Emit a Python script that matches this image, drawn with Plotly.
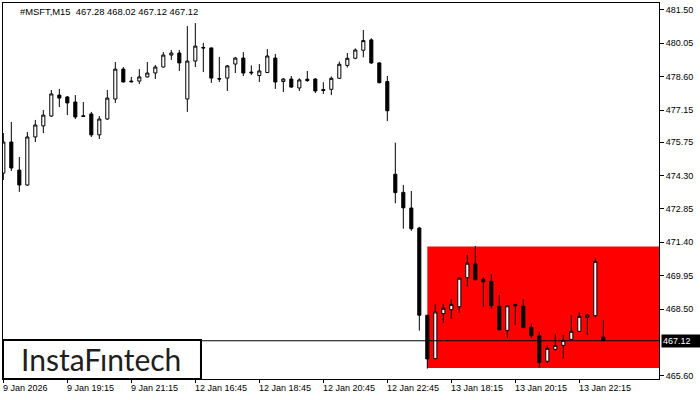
import plotly.graph_objects as go

# ---- data ----
opens = [474.41, 475.76, 474.54, 473.89, 475.98, 476.46, 476.89, 477.80, 477.72, 477.50,
         476.90, 476.98, 476.07, 476.76, 477.63, 478.93, 478.41, 478.41, 478.59, 478.76,
         479.02, 479.54, 479.63, 477.63, 479.28, 479.87, 479.85, 478.52, 478.54, 479.15,
         479.41, 478.80, 478.65, 478.78, 479.41, 478.39, 478.50, 478.11, 478.49, 478.50,
         478.04, 478.05, 478.53, 479.09, 479.40, 479.75, 480.20, 479.20, 478.39, 474.36,
         473.57, 472.89, 472.02, 468.23, 466.34, 468.30, 468.47, 468.60, 469.86, 470.46,
         469.79, 469.70, 468.62, 467.57, 468.70, 468.62, 467.70, 467.33, 466.23, 466.75,
         466.92, 467.18, 467.53, 468.14, 468.21, 467.28]
highs = [476.15, 476.63, 475.11, 476.20, 476.72, 477.15, 478.02, 478.07, 477.76, 477.80,
         477.50, 477.07, 476.89, 478.02, 479.24, 479.02, 478.59, 478.93, 479.24, 479.11,
         479.67, 479.76, 479.76, 480.80, 480.93, 480.07, 479.87, 479.46, 479.11, 479.46,
         479.67, 479.09, 479.15, 479.80, 479.59, 478.54, 478.63, 478.53, 478.85, 478.53,
         478.36, 478.61, 479.26, 479.63, 479.83, 480.63, 480.27, 479.22, 478.63, 475.73,
         473.89, 473.63, 472.07, 468.24, 468.72, 468.72, 468.92, 469.85, 470.85, 471.24,
         469.88, 470.02, 469.11, 468.67, 468.72, 468.93, 467.88, 467.50, 466.92, 467.41,
         467.36, 468.23, 468.37, 468.28, 470.70, 468.02]
lows = [474.11, 474.50, 473.59, 473.85, 475.76, 476.15, 476.85, 477.28, 476.93, 476.76,
        476.85, 475.98, 475.89, 476.72, 477.46, 478.35, 478.36, 478.28, 478.56, 478.50,
        479.00, 479.33, 478.85, 477.07, 479.02, 478.80, 478.33, 478.37, 477.98, 478.76,
        478.63, 478.67, 478.37, 478.76, 478.07, 477.93, 478.11, 477.98, 478.38, 477.89,
        477.85, 477.80, 478.52, 479.00, 479.36, 479.44, 479.15, 478.31, 476.67, 473.10,
        471.99, 471.90, 467.56, 465.91, 466.31, 467.90, 468.07, 468.34, 469.47, 469.76,
        468.60, 468.51, 467.56, 467.25, 467.80, 467.67, 467.25, 465.95, 466.14, 466.69,
        466.34, 467.15, 467.51, 467.37, 468.14, 467.12]
closes = [475.76, 474.63, 473.89, 475.98, 476.50, 476.93, 477.85, 477.67, 477.46, 476.85,
          476.87, 476.07, 476.76, 477.67, 478.93, 478.37, 478.38, 478.59, 478.76, 479.02,
          479.54, 479.63, 479.20, 479.28, 479.93, 479.85, 478.54, 478.50, 479.07, 479.41,
          478.76, 478.77, 478.85, 479.50, 478.37, 478.50, 478.15, 478.46, 478.43, 477.98,
          478.00, 478.53, 479.14, 479.40, 479.76, 480.17, 479.20, 478.34, 477.12, 473.56,
          472.90, 471.99, 468.23, 466.33, 468.37, 468.53, 468.70, 469.84, 470.49, 469.77,
          469.69, 468.64, 467.60, 468.64, 468.64, 467.69, 467.34, 466.17, 466.79, 466.92,
          467.14, 467.53, 468.18, 468.23, 470.57, 467.12]

time_tick_index = [0, 8, 16, 24, 32, 40, 48, 56, 64, 72]
time_tick_labels = ["9 Jan 2026", "9 Jan 19:15", "9 Jan 21:15", "12 Jan 16:45", "12 Jan 18:45",
                    "12 Jan 20:45", "12 Jan 22:45", "13 Jan 18:15", "13 Jan 20:15", "13 Jan 22:15"]
price_tick_labels = ["481.50", "480.05", "478.60", "477.15", "475.75", "474.30",
                     "472.85", "471.40", "469.95", "468.50", "465.60"]

current_price = 467.12
rect_start_index = 53
rect_top = 471.22
rect_bottom = 465.93
title_text = "#MSFT,M15\u00a0\u00a0467.28 468.02 467.12 467.12"
logo_text = "InstaF\u0131ntech"

# ---- figure ----
xs = list(range(len(opens)))
FONT = "Liberation Sans, Arial, sans-serif"

fig = go.Figure()
fig.add_trace(go.Candlestick(
    x=xs, open=opens, high=highs, low=lows, close=closes,
    increasing=dict(line=dict(color="black", width=1), fillcolor="white"),
    decreasing=dict(line=dict(color="black", width=1), fillcolor="black"),
    whiskerwidth=0, hoverinfo="skip", showlegend=False,
))

shapes = [
    dict(type="rect", xref="x", yref="y", x0=rect_start_index, x1=len(opens) + 20,
         y0=rect_bottom, y1=rect_top, fillcolor="#ff0000", line=dict(width=0), layer="below"),
    dict(type="line", xref="paper", yref="y", x0=0, x1=1, y0=current_price, y1=current_price,
         line=dict(color="black", width=1), layer="above"),
    dict(type="rect", xref="paper", yref="paper", x0=0, x1=0.3018, y0=0, y1=0.1037,
         fillcolor="white", line=dict(color="black", width=2), layer="above"),
]

annotations = [
    dict(text=title_text, xref="paper", yref="paper", x=0.0229, y=0.9787,
         xanchor="left", yanchor="middle", showarrow=False,
         font=dict(family=FONT, size=9.4, color="black")),
    dict(text=logo_text, xref="paper", yref="paper", x=0.1501, y=0.0532,
         xanchor="center", yanchor="middle", showarrow=False,
         font=dict(family="Lato, sans-serif", size=30, color="#1e1e1e")),
    dict(text=f"{current_price:.2f}", xref="paper", yref="y", x=1, y=current_price,
         xanchor="left", yanchor="middle", xshift=2, showarrow=False, align="left",
         bgcolor="black", borderpad=1, width=36,
         font=dict(family=FONT, size=9, color="white")),
]
for idx, lab in zip(time_tick_index, time_tick_labels):
    annotations.append(dict(text=lab, xref="x", yref="paper", x=idx, y=0,
                            xanchor="left", yanchor="top", yshift=-2, xshift=-2,
                            showarrow=False, font=dict(family=FONT, size=9, color="black")))

fig.update_layout(
    width=700, height=400,
    margin=dict(l=3, r=41, t=3, b=21),
    paper_bgcolor="white", plot_bgcolor="white",
    boxgap=0.45,
    shapes=shapes, annotations=annotations,
    hovermode=False,
    xaxis=dict(range=[-0.04, 81.96], showgrid=False, zeroline=False,
               tickvals=time_tick_index, showticklabels=False,
               ticks="outside", ticklen=3, tickcolor="black",
               showline=True, linecolor="black", linewidth=1, mirror=True,
               rangeslider=dict(visible=False), fixedrange=True),
    yaxis=dict(range=[465.457, 481.804], side="right", showgrid=False, zeroline=False,
               tickvals=[float(v) for v in price_tick_labels], ticktext=price_tick_labels,
               ticks="outside", ticklen=4, tickcolor="black",
               tickfont=dict(family=FONT, size=9, color="black"),
               showline=True, linecolor="black", linewidth=1, mirror=True, fixedrange=True),
)

fig.write_html("out.html", config={"displayModeBar": False},
               post_script="document.body.style.margin='0';document.body.style.overflow='hidden';")
